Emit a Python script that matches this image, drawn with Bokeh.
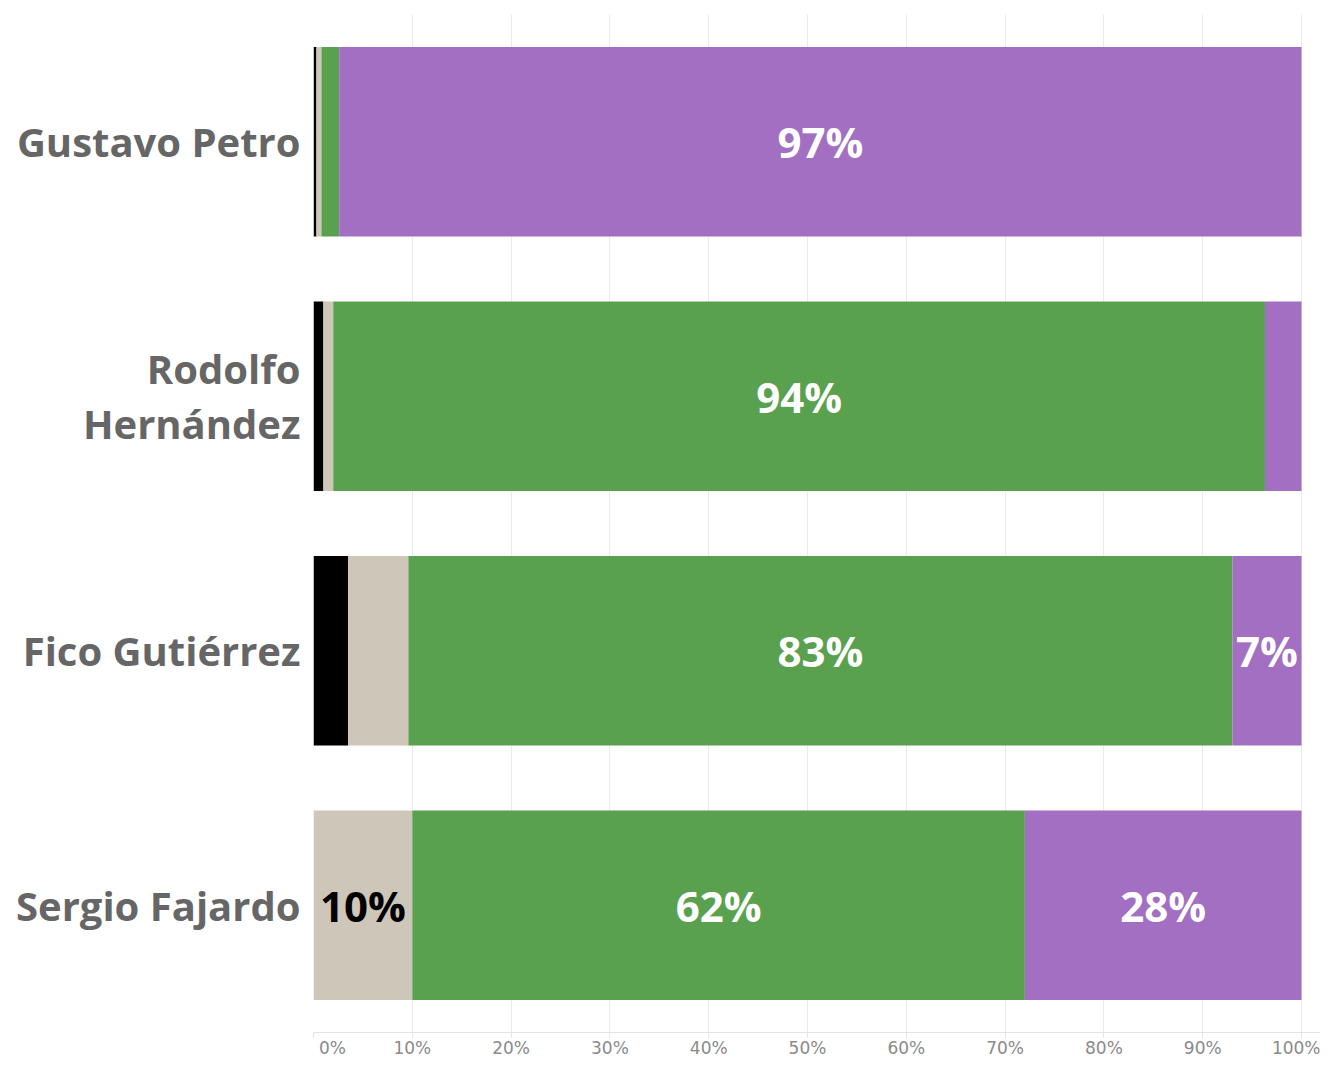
from bokeh.plotting import figure
from bokeh.models import FactorRange, Range1d, ColumnDataSource, FixedTicker
from bokeh.core.properties import value
from bokeh.embed import file_html
from bokeh.resources import INLINE

candidates = ["Gustavo Petro", "Rodolfo\nHernández", "Fico Gutiérrez", "Sergio Fajardo"]
black = [0.3, 1.0, 3.5, 0.0]
beige = [0.5, 1.0, 6.1, 10.0]
green = [1.8, 94.3, 83.4, 62.0]
purple = [97.4, 3.7, 7.0, 28.0]
tick_values = [0, 10, 20, 30, 40, 50, 60, 70, 80, 90, 100]

series_names = ["black", "beige", "green", "purple"]
series = [black, beige, green, purple]
colors = ["#000000", "#CEC6B8", "#59A14F", "#A26FC2"]
label_colors = ["#FFFFFF", "#000000", "#FFFFFF", "#FFFFFF"]

data = {"cand": candidates}
for n, s in zip(series_names, series):
    data[n] = s
src = ColumnDataSource(data)

p = figure(
    y_range=FactorRange(*reversed(candidates), range_padding=0),
    x_range=Range1d(0, 101.92),
    width=1320, height=1060,
    output_backend="svg", toolbar_location=None,
    min_border_left=313, min_border_right=0, min_border_top=14, min_border_bottom=28,
)
p.hbar_stack(series_names, y="cand", height=0.745, color=colors, line_color=None, source=src)

# segment labels
lx, ly, lt, lc = [], [], [], []
for i, c in enumerate(candidates):
    left = 0.0
    for s, col in zip(series, label_colors):
        v = s[i]
        if v >= 6.5:
            lx.append(left + v / 2)
            ly.append(c)
            lt.append(f"{round(v):d}%")
            lc.append(col)
        left += v
p.text(x=lx, y=ly, text=lt, text_color=lc, text_align="center", text_baseline="middle",
       text_font=value("Open Sans"), text_font_style="bold", text_font_size=value("42px"))

p.outline_line_color = None
p.ygrid.grid_line_color = None
p.xgrid.grid_line_color = "#EBEBEB"
p.xgrid.ticker = FixedTicker(ticks=tick_values)

xa = p.xaxis[0]
xa.ticker = FixedTicker(ticks=tick_values)
xa.major_label_overrides = {t: f"{t}%" for t in tick_values}
xa.major_label_overrides[0] = "\u00a0" * 7 + "0%"
xa.axis_line_color = "#E3E3E3"
xa.major_tick_line_color = "#E3E3E3"
xa.major_tick_out = 5
xa.major_tick_in = 0
xa.minor_tick_line_color = None
xa.major_label_standoff = 0
xa.major_label_text_color = "#8A8A8A"
xa.major_label_text_font = "DejaVu Sans"
xa.major_label_text_font_size = "17px"

ya = p.yaxis[0]
ya.axis_line_color = None
ya.major_tick_line_color = None
ya.minor_tick_line_color = None
ya.major_label_standoff = 7
ya.major_label_text_color = "#666666"
ya.major_label_text_font = "Open Sans"
ya.major_label_text_font_style = "bold"
ya.major_label_text_font_size = "40px"
ya.major_label_text_line_height = 1.0

open("out.html", "w").write(file_html(p, INLINE))
